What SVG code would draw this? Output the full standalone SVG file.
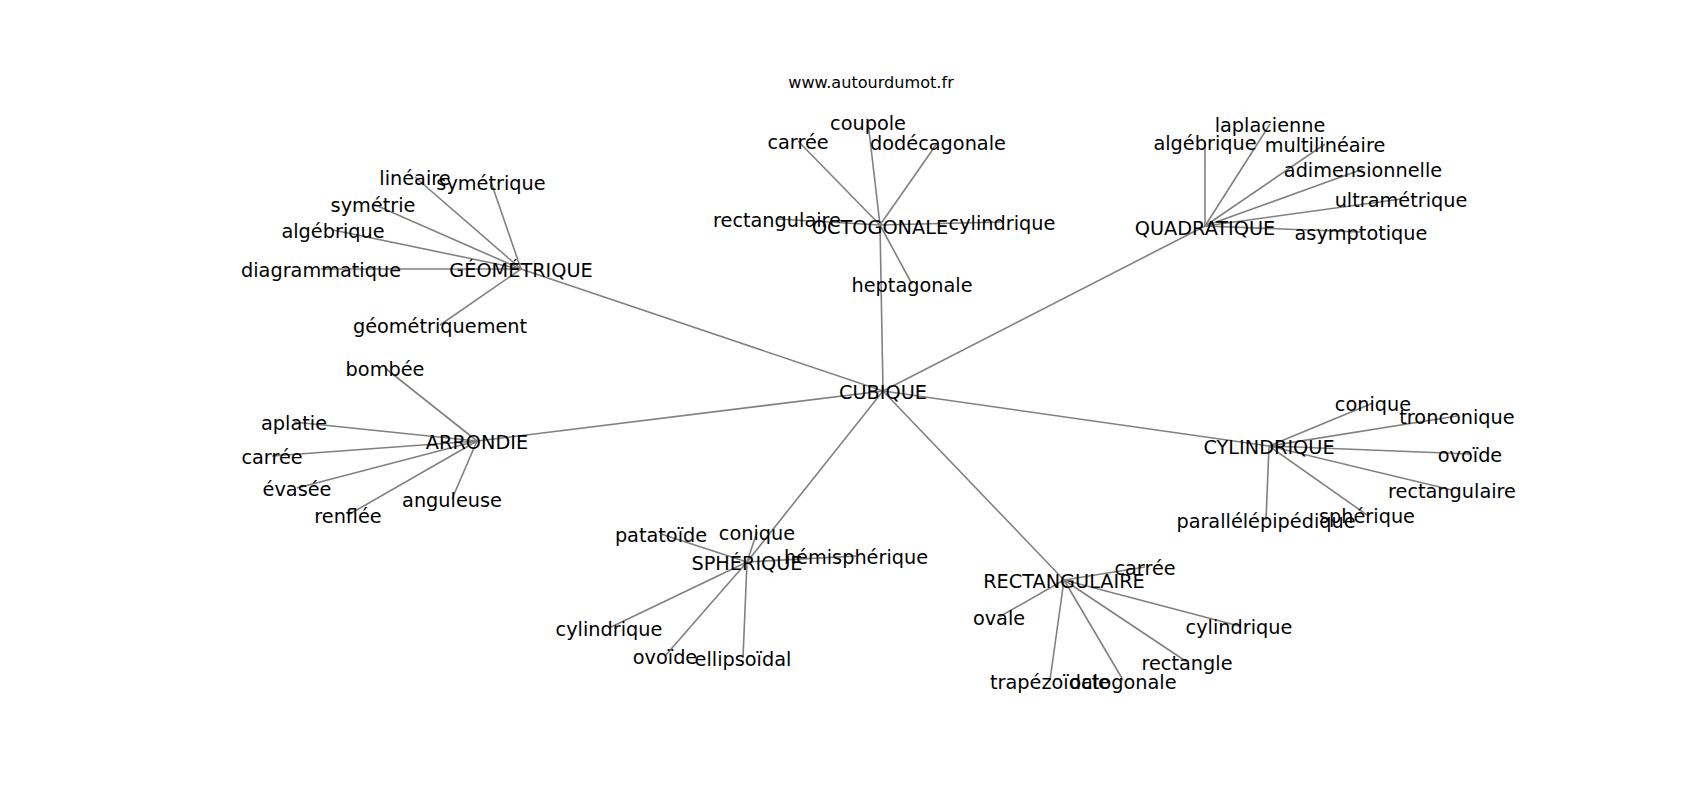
<svg xmlns="http://www.w3.org/2000/svg" width="1700" height="800" viewBox="0 0 1700 800">
<style>
text{font-family:"DejaVu Sans","Liberation Sans",sans-serif;font-size:19.3px;fill:#000;text-anchor:middle}
.title{font-size:16.1px}
#edges line{stroke:#808080;stroke-width:1.6}
</style>
<rect width="1700" height="800" fill="#fff"/>
<text class="title" x="871" y="88">www.autourdumot.fr</text>
<g id="edges">
<line x1="883" y1="391" x2="521" y2="269"/>
<line x1="883" y1="391" x2="880" y2="225"/>
<line x1="883" y1="391" x2="1205" y2="226"/>
<line x1="883" y1="391" x2="1269" y2="446"/>
<line x1="883" y1="391" x2="477" y2="441"/>
<line x1="883" y1="391" x2="747" y2="562"/>
<line x1="883" y1="391" x2="1064" y2="580"/>
<line x1="521" y1="269" x2="415" y2="177"/>
<line x1="521" y1="269" x2="491" y2="182"/>
<line x1="521" y1="269" x2="373" y2="204"/>
<line x1="521" y1="269" x2="333" y2="230"/>
<line x1="521" y1="269" x2="321" y2="269"/>
<line x1="521" y1="269" x2="440" y2="325"/>
<line x1="880" y1="225" x2="798" y2="141"/>
<line x1="880" y1="225" x2="868" y2="122"/>
<line x1="880" y1="225" x2="938" y2="142"/>
<line x1="880" y1="225" x2="777" y2="219"/>
<line x1="880" y1="225" x2="1002" y2="222"/>
<line x1="880" y1="225" x2="912" y2="284"/>
<line x1="1205" y1="226" x2="1205" y2="142"/>
<line x1="1205" y1="226" x2="1270" y2="124"/>
<line x1="1205" y1="226" x2="1325" y2="144"/>
<line x1="1205" y1="226" x2="1363" y2="169"/>
<line x1="1205" y1="226" x2="1401" y2="199"/>
<line x1="1205" y1="226" x2="1361" y2="232"/>
<line x1="1269" y1="446" x2="1373" y2="403"/>
<line x1="1269" y1="446" x2="1457" y2="416"/>
<line x1="1269" y1="446" x2="1470" y2="454"/>
<line x1="1269" y1="446" x2="1452" y2="490"/>
<line x1="1269" y1="446" x2="1367" y2="515"/>
<line x1="1269" y1="446" x2="1266" y2="520"/>
<line x1="477" y1="441" x2="385" y2="368"/>
<line x1="477" y1="441" x2="294" y2="422"/>
<line x1="477" y1="441" x2="272" y2="456"/>
<line x1="477" y1="441" x2="297" y2="488"/>
<line x1="477" y1="441" x2="348" y2="515"/>
<line x1="477" y1="441" x2="452" y2="499"/>
<line x1="747" y1="562" x2="661" y2="534"/>
<line x1="747" y1="562" x2="757" y2="532"/>
<line x1="747" y1="562" x2="856" y2="556"/>
<line x1="747" y1="562" x2="609" y2="628"/>
<line x1="747" y1="562" x2="665" y2="656"/>
<line x1="747" y1="562" x2="743" y2="658"/>
<line x1="1064" y1="580" x2="1145" y2="567"/>
<line x1="1064" y1="580" x2="999" y2="617"/>
<line x1="1064" y1="580" x2="1239" y2="626"/>
<line x1="1064" y1="580" x2="1187" y2="662"/>
<line x1="1064" y1="580" x2="1123" y2="680"/>
<line x1="1064" y1="580" x2="1050" y2="680"/>
</g>
<g id="n-cubique"><text x="883" y="399">CUBIQUE</text></g>
<g id="n-geometrique"><text x="521" y="277">GÉOMÉTRIQUE</text></g>
<g id="n-octogonale"><text x="880" y="234">OCTOGONALE</text></g>
<g id="n-quadratique"><text x="1205" y="235">QUADRATIQUE</text></g>
<g id="n-cylindrique"><text x="1269" y="454">CYLINDRIQUE</text></g>
<g id="n-arrondie"><text x="477" y="449">ARRONDIE</text></g>
<g id="n-spherique"><text x="747" y="570">SPHÉRIQUE</text></g>
<g id="n-rectangulaire"><text x="1064" y="588">RECTANGULAIRE</text></g>
<g id="n-geo-lineaire"><text x="415" y="185">linéaire</text></g>
<g id="n-geo-symetrique"><text x="491" y="190">symétrique</text></g>
<g id="n-geo-symetrie"><text x="373" y="212">symétrie</text></g>
<g id="n-geo-algebrique"><text x="333" y="238">algébrique</text></g>
<g id="n-geo-diagrammatique"><text x="321" y="277">diagrammatique</text></g>
<g id="n-geo-geometriquement"><text x="440" y="333">géométriquement</text></g>
<g id="n-oct-carree"><text x="798" y="149">carrée</text></g>
<g id="n-oct-coupole"><text x="868" y="130">coupole</text></g>
<g id="n-oct-dodecagonale"><text x="938" y="150">dodécagonale</text></g>
<g id="n-oct-rectangulaire"><text x="777" y="227">rectangulaire</text></g>
<g id="n-oct-cylindrique"><text x="1002" y="230">cylindrique</text></g>
<g id="n-oct-heptagonale"><text x="912" y="292">heptagonale</text></g>
<g id="n-quad-algebrique"><text x="1205" y="150">algébrique</text></g>
<g id="n-quad-laplacienne"><text x="1270" y="132">laplacienne</text></g>
<g id="n-quad-multilineaire"><text x="1325" y="152">multilinéaire</text></g>
<g id="n-quad-adimensionnelle"><text x="1363" y="177">adimensionnelle</text></g>
<g id="n-quad-ultrametrique"><text x="1401" y="207">ultramétrique</text></g>
<g id="n-quad-asymptotique"><text x="1361" y="240">asymptotique</text></g>
<g id="n-cyl-conique"><text x="1373" y="411">conique</text></g>
<g id="n-cyl-tronconique"><text x="1457" y="424">tronconique</text></g>
<g id="n-cyl-ovoide"><text x="1470" y="462">ovoïde</text></g>
<g id="n-cyl-rectangulaire"><text x="1452" y="498">rectangulaire</text></g>
<g id="n-cyl-spherique"><text x="1367" y="523">sphérique</text></g>
<g id="n-cyl-parallelepipedique"><text x="1266" y="528">parallélépipédique</text></g>
<g id="n-arr-bombee"><text x="385" y="376">bombée</text></g>
<g id="n-arr-aplatie"><text x="294" y="430">aplatie</text></g>
<g id="n-arr-carree"><text x="272" y="464">carrée</text></g>
<g id="n-arr-evasee"><text x="297" y="496">évasée</text></g>
<g id="n-arr-renflee"><text x="348" y="523">renflée</text></g>
<g id="n-arr-anguleuse"><text x="452" y="507">anguleuse</text></g>
<g id="n-sph-patatoide"><text x="661" y="542">patatoïde</text></g>
<g id="n-sph-conique"><text x="757" y="540">conique</text></g>
<g id="n-sph-hemispherique"><text x="856" y="564">hémisphérique</text></g>
<g id="n-sph-cylindrique"><text x="609" y="636">cylindrique</text></g>
<g id="n-sph-ovoide"><text x="665" y="664">ovoïde</text></g>
<g id="n-sph-ellipsoidal"><text x="743" y="666">ellipsoïdal</text></g>
<g id="n-rect-carree"><text x="1145" y="575">carrée</text></g>
<g id="n-rect-ovale"><text x="999" y="625">ovale</text></g>
<g id="n-rect-cylindrique"><text x="1239" y="634">cylindrique</text></g>
<g id="n-rect-rectangle"><text x="1187" y="670">rectangle</text></g>
<g id="n-rect-octogonale"><text x="1123" y="689">octogonale</text></g>
<g id="n-rect-trapezoidale"><text x="1050" y="689">trapézoïdale</text></g>
</svg>
